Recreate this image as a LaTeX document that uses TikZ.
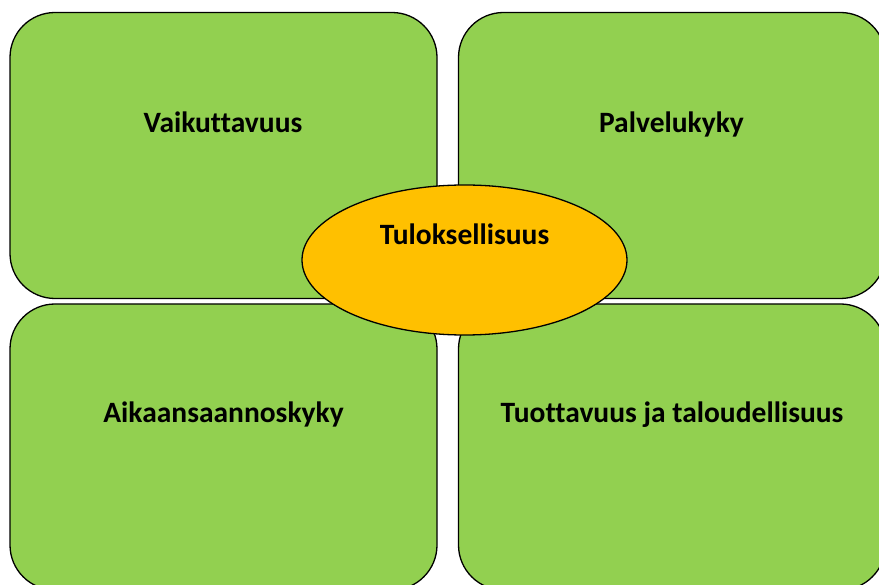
\documentclass[tikz,border=0pt]{standalone}
\usepackage{fontspec}
\setmainfont{Carlito}[Ligatures=NoCommon]
\usepackage{xcolor}
\usetikzlibrary{shapes.geometric}
\definecolor{mygreen}{HTML}{92D050}
\definecolor{myorange}{HTML}{FFC000}

\begin{document}
\begin{tikzpicture}[x=1pt, y=-1pt,
    osa/.style={rectangle, rounded corners=45pt, draw=black, line width=1.3pt, fill=mygreen, minimum width=427pt, minimum height=286pt, inner sep=0pt},
    teksti/.style={anchor=base, font=\fontsize{29.5}{34}\selectfont\bfseries}]
    \useasboundingbox (0,0) rectangle (879,585);
    \clip (0,0) rectangle (879,585);

    % neljä osa-aluetta
    \node[osa] (vaik) at (223.5, 155.5) {};
    \node[osa] (palv) at (672, 155.5) {};
    \node[osa] (aika) at (223.5, 447) {};
    \node[osa] (tuot) at (672, 447) {};

    % tekstit
    \node[teksti] (vaikT) at (223, 133) {Vaikuttavuus};
    \node[teksti] (palvT) at (671.5, 133) {Palvelukyky};
    \node[teksti] (aikaT) at (223.5, 423) {Aikaansaannoskyky};
    \node[teksti] (tuotT) at (672, 423) {Tuottavuus ja taloudellisuus};

    % keskellä
    \node[ellipse, draw=black, line width=1.3pt, fill=myorange, minimum width=325pt, minimum height=150pt, inner sep=0pt] (tulos) at (464.5, 260) {};
    \node[teksti] (tulosT) at (464.5, 245) {Tuloksellisuus};
\end{tikzpicture}
\end{document}
